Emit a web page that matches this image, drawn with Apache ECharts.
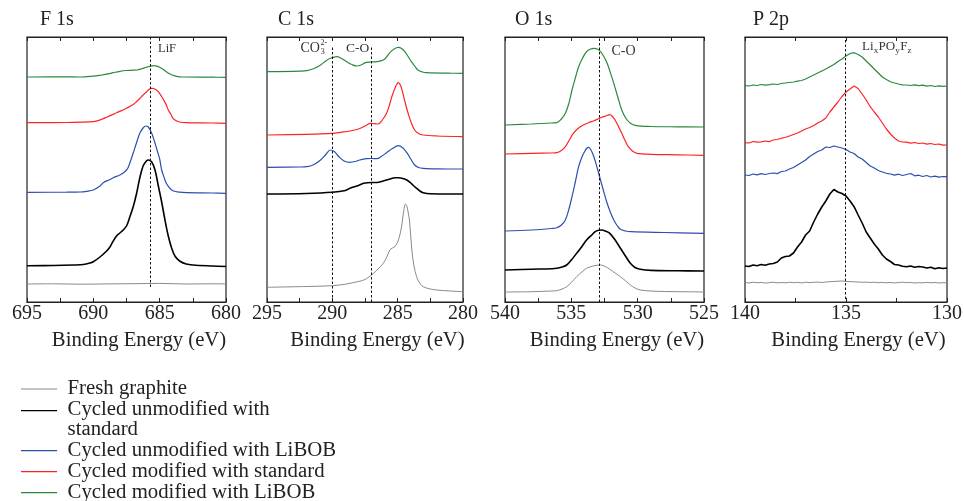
<!DOCTYPE html>
<html><head><meta charset="utf-8">
<script src="https://cdn.jsdelivr.net/npm/echarts@6/dist/echarts.min.js"></script>
<style>html,body{margin:0;padding:0;background:#fff}#c{width:964px;height:501px}</style>
</head><body><div id="c"></div>
<script>
// ---------- data ----------
const seriesNames = ['Fresh graphite', 'Cycled unmodified with standard', 'Cycled unmodified with LiBOB', 'Cycled modified with standard', 'Cycled modified with LiBOB'];
const panelTitles = ['F 1s', 'C 1s', 'O 1s', 'P 2p'];
const axisTitle = 'Binding Energy (eV)';
const xRanges = [[680, 695], [280, 295], [525, 540], [130, 140]];
const refLines = [[685.68], [290, 287], [532.9], [135.05]];

// F 1s  [binding energy, intensity (offset, a.u.)]
const f1sFresh = [[695,18],[693,18.2],[691,17.8],[689,18.1],[687,18.3],[685,18.6],[683,18],[681,18.2],[680,18.1]];
const f1sUnmodStd = [[695,36.3],[693,36.5],[691.5,37],[690.75,37.5],[690.25,39],[690,40.3],[689.5,45],[689,51],[688.75,55],[688.5,61],[688.25,66],[688,69],[687.75,72],[687.5,76],[687.25,85],[687,95],[686.75,108],[686.5,124],[686.25,136],[686,141],[685.85,142],[685.6,140],[685.35,132],[685.1,116],[684.85,100],[684.6,82],[684.35,66],[684.1,54],[683.85,46],[683.5,41],[683,38],[682.5,37],[681,36],[680,35.5]];
const f1sUnmodLiBOB = [[695,109.7],[692,109.8],[691,110],[690.5,110.7],[690,112],[689.5,116],[689.25,119.3],[688.75,122.5],[688.5,124.3],[688,127],[687.75,129],[687.5,132],[687.35,135.3],[687,148.7],[686.75,159],[686.5,168.7],[686.25,174],[686.05,176],[685.85,175],[685.6,168.7],[685.4,161],[685.2,152],[685,143],[684.85,132],[684.65,124],[684.5,118.7],[684.25,114],[684,111.3],[683.5,109.8],[683,109.3],[681,109],[680,108.7]];
const f1sModStd = [[695,179.3],[692,179.5],[691,179.8],[690,180.3],[689.5,182],[689,184.7],[688.5,187.7],[688.25,189.3],[687.75,192],[687.5,193.7],[687,197.5],[686.75,200.3],[686.5,203.5],[686.25,207],[686,210],[685.85,212],[685.6,213.7],[685.45,213.5],[685.25,212],[685.1,210.3],[684.9,206.5],[684.7,202],[684.5,197],[684.35,192],[684.15,187.5],[684,183.7],[683.75,181.3],[683.5,180],[683,179.3],[681,179],[680,178.7]];
const f1sModLiBOB = [[695,225],[692,225.2],[691,225],[690.5,225.3],[690,225.8],[689.5,226.7],[689,227.8],[688.5,229.3],[688,230.7],[687.5,231.5],[687,231.8],[686.7,232],[686.4,233],[686,234.7],[685.7,235.8],[685.45,236.3],[685.2,235.8],[685,234.7],[684.75,232.8],[684.5,230.3],[684.25,228.2],[684,226.7],[683.5,225.2],[683,225],[681,224.8],[680,224.7]];

// C 1s
const c1sFresh = [[295,14.7],[292,15.5],[290,16.3],[289,17.8],[288.65,18.7],[288,20.5],[287.6,22],[287.2,25],[286.85,28.7],[286.5,33],[286.1,38.7],[285.8,46],[285.6,52],[285.4,54],[285.2,55.5],[285,60],[284.8,68.7],[284.65,80],[284.55,90],[284.4,98],[284.3,96],[284.2,90],[284.1,82],[284,66],[283.9,50],[283.75,36],[283.55,25.3],[283.3,18.5],[283.05,15.3],[282.5,13],[282,12],[281,11],[280,10.3]];
const c1sUnmodStd = [[295,108],[292,108.5],[290,109.7],[289,111.5],[288.65,113.7],[288,116.5],[287.6,118.7],[287,119.5],[286.6,119.5],[286.1,121],[285.6,123],[285.2,124.2],[284.95,124.3],[284.6,123.5],[284.3,122],[284,119],[283.8,116.5],[283.55,113.7],[283.3,111],[283.05,109.3],[282.5,108.2],[281,108],[280,108]];
const c1sUnmodLiBOB = [[295,134.7],[292.5,135],[291.95,135.3],[291.4,137.5],[290.9,142],[290.5,147.5],[290.15,152],[289.85,150.5],[289.5,145.3],[289.1,141],[288.65,139.7],[288.25,140.5],[287.9,142],[287.4,143.3],[287,143.5],[286.6,143.3],[286.2,146],[285.85,149.3],[285.4,153.5],[284.95,156.3],[284.6,154],[284.3,149.3],[284,143],[283.7,137],[283.4,134.5],[283.05,133.7],[282,133.2],[280,133]];
const c1sModStd = [[295,167],[292,167.7],[290,168.7],[289.3,169.8],[288.65,171],[288,173],[287.6,175.3],[287.3,177.5],[287.1,178.7],[286.8,178.4],[286.5,178],[286.2,181.5],[285.85,188.7],[285.65,196],[285.45,205.3],[285.2,214],[284.95,219.3],[284.75,215.5],[284.6,208.7],[284.4,198],[284.2,188.7],[283.95,179],[283.7,172],[283.4,168.5],[283.05,167],[282,166],[280,165.3]];
const c1sModLiBOB = [[295,230.3],[292.5,230.8],[291.95,231.3],[291.4,233.5],[290.9,237],[290.5,241],[290.15,243.7],[289.65,245.3],[289.3,243.5],[288.9,240.3],[288.5,237.5],[288.15,236],[287.8,237],[287.4,239.7],[287,240],[286.6,240.3],[286.1,242],[285.85,245],[285.6,249.3],[285.25,253.2],[284.95,254.7],[284.7,253.5],[284.45,250.3],[284.2,245.5],[283.95,240.3],[283.7,236],[283.45,232],[283.1,230],[282.8,229.3],[281,228.8],[280,228.7]];

// O 1s
const o1sFresh = [[540,10],[538,10.3],[536.5,11],[536.1,11.3],[535.7,13],[535.35,15.3],[535,19.5],[534.6,25.3],[534.2,30],[533.85,33.7],[533.3,36.2],[532.8,37],[532.45,35.5],[532.1,32.7],[531.7,29],[531.3,25.3],[530.9,21],[530.55,17],[530.2,14],[529.8,12],[529,11],[528,10.5],[526,10.2],[525,10]];
const o1sUnmodStd = [[540,32],[538,32.8],[536.5,33.3],[536.1,33.7],[535.7,35],[535.35,37],[535,42],[534.6,48.7],[534.2,55.5],[533.85,62],[533.5,66.5],[533.2,70.3],[532.95,71.7],[532.7,72],[532.4,70.8],[532.1,68.7],[531.7,62],[531.3,53.7],[530.9,45.5],[530.55,38.7],[530.2,34.5],[529.8,32.7],[529,31.6],[527,31.2],[525,31]];
const o1sUnmodLiBOB = [[540,71],[538,72],[536.5,73.5],[536.1,74.3],[535.75,77],[535.45,82],[535.2,92],[534.95,105.3],[534.7,120],[534.45,135.3],[534.2,145],[534,150.3],[533.85,153.5],[533.7,154.7],[533.5,151.5],[533.3,145.3],[533.05,134],[532.8,122],[532.55,110],[532.3,98.7],[532.05,89.5],[531.8,82],[531.55,76.5],[531.3,72.7],[530.9,71],[530.5,70.3],[528,69.5],[525,68.7]];
const o1sModStd = [[540,148],[538,148.7],[536.5,149],[536.1,149.3],[535.75,151.5],[535.45,155.3],[535.15,162],[534.85,168.7],[534.5,173.5],[534.1,177],[533.7,179.3],[533.3,181.3],[533,183],[532.7,184.7],[532.4,186],[532.1,187.3],[531.9,185.5],[531.7,182],[531.45,175.5],[531.2,168.7],[530.95,161.5],[530.7,155.3],[530.4,151],[530.05,148.7],[529,147.7],[527,147.2],[525,146.7]];
const o1sModLiBOB = [[540,177],[538,178],[536.5,179],[536.1,179.3],[535.75,183],[535.45,188.7],[535.2,198],[534.95,212],[534.7,224],[534.45,235.3],[534.15,244],[533.85,250.3],[533.55,253],[533.3,253.7],[533.05,253],[532.8,250.3],[532.55,245.5],[532.3,238.7],[532.05,229],[531.8,218.7],[531.5,205],[531.2,192],[530.9,184],[530.55,178.7],[530.1,176.3],[529,175.5],[527,175.2],[525,175]];

// P 2p (noisy spectra, 0.2 eV steps)
const p2pEnergy = [140,139.8,139.6,139.4,139.2,139,138.8,138.6,138.4,138.2,138,137.8,137.6,137.4,137.2,137,136.8,136.6,136.4,136.2,136,135.8,135.6,135.4,135.2,135,134.8,134.6,134.4,134.2,134,133.8,133.6,133.4,133.2,133,132.8,132.6,132.4,132.2,132,131.8,131.6,131.4,131.2,131,130.8,130.6,130.4,130.2,130];
const p2pFresh = [19.5,19,19.8,19.2,19.6,18.9,19.4,19.8,19.1,19.5,19.2,19.7,19.3,19.6,19.1,19.8,19.4,19.7,19.9,19.5,20,20.3,20.5,20.8,21,20.6,20.4,20.2,20,19.7,19.9,19.5,19.8,19.3,19.6,19.2,19.5,19.1,19.4,19.8,19.3,19.5,19,19.4,19.1,19.6,19.2,19.5,19,19.3,19.2];
const p2pUnmodStd = [36,35.5,37,36.2,37.5,36.8,38,38.5,40,44,45.5,46,49,55,60,67,71,80,88,95,101,108,112.5,110,108.5,106,101,95.3,87,79,70,64,58,53,47,43,40.5,37.5,37,35.8,35.3,36,34.8,35.5,35,34,34.8,33.2,34.2,33.5,34];
const p2pUnmodLiBOB = [127,126.5,128,127.2,128.3,127.5,128.5,129,128.4,130.5,131,133,134.5,137,139.5,142,145.5,148,150.5,152,155,154.5,156,155,154,152.5,150,148.5,145,143,139.5,136,134,131.5,130,128.7,128,126.8,127.8,126.5,127.5,128.5,126.2,126.8,125.5,126.5,125,125.8,124.8,125.5,125.3];
const p2pModStd = [159.3,159,160.5,159.8,160.2,161,160.3,162,162.5,163.8,164.5,166,167.5,169,171,173,174.5,176.5,179,181,184,190,195,200,205.5,210,213,216,213.5,208,202,195.3,190,185,179,173,168,164,161,160,159.8,158.8,159.5,158.5,159,157.8,158.5,157.5,158,156.8,157];
const p2pModLiBOB = [216.3,216,217,216.5,217.5,216.8,217.3,218,217.5,218.5,219,219.5,220,220.8,221.5,223,225,227,229,231,233,235.3,237.5,240.5,243,246,248.5,249.3,247.5,245,241,237,233,229,225,222.5,220.3,219,218,217.2,217,216.5,217.2,216.3,216.8,215.8,216.5,215.5,216.2,215.7,216];

// ---------- chart ----------
const FONT = "'Liberation Serif','DejaVu Serif',serif";
const colors = ['#8a8a8a', '#000000', '#2c4fae', '#ff2222', '#2a8a3c'];
const widths = [1, 1.6, 1.2, 1.2, 1.2];
const pair = (xs, ys) => xs.map((x, i) => [x, ys[i]]);
const panelData = [
  [f1sFresh, f1sUnmodStd, f1sUnmodLiBOB, f1sModStd, f1sModLiBOB],
  [c1sFresh, c1sUnmodStd, c1sUnmodLiBOB, c1sModStd, c1sModLiBOB],
  [o1sFresh, o1sUnmodStd, o1sUnmodLiBOB, o1sModStd, o1sModLiBOB],
  [pair(p2pEnergy, p2pFresh), pair(p2pEnergy, p2pUnmodStd), pair(p2pEnergy, p2pUnmodLiBOB), pair(p2pEnergy, p2pModStd), pair(p2pEnergy, p2pModLiBOB)]
];
// layout (pixels)
const grids = [
  {left: 27, top: 37, width: 199, height: 265},
  {left: 267, top: 37, width: 196, height: 265},
  {left: 505, top: 37, width: 199, height: 265},
  {left: 745, top: 37, width: 202, height: 265}
];
const titleLeft = [40, 278, 515, 753];
const refLineSpan = [[[15, 265]], [[0, 256], [0, 256]], [[0, 265]], [[3, 265]]];

const axisCol = '#222';
const xAxes = [];
grids.forEach((g, i) => {
  const base = {
    gridIndex: i, type: 'value', min: xRanges[i][0], max: xRanges[i][1], interval: 5, inverse: true,
    axisLine: {show: true, lineStyle: {color: axisCol, width: 1.2}},
    axisTick: {show: true, inside: true, length: 4, lineStyle: {color: axisCol, width: 1}},
    minorTick: {show: true, splitNumber: 2, length: 4, lineStyle: {color: axisCol, width: 1}},
    splitLine: {show: false}, minorSplitLine: {show: false}
  };
  xAxes.push(Object.assign({}, base, {
    position: 'bottom',
    axisLabel: {show: true, fontFamily: FONT, fontSize: 20, color: axisCol, margin: 2},
    name: axisTitle, nameLocation: 'middle', nameGap: 28,
    nameTextStyle: {fontFamily: FONT, fontSize: 20.7, color: axisCol, padding: [0, 0, 0, 25]}
  }));
});
grids.forEach((g, i) => {
  xAxes.push({
    gridIndex: i, type: 'value', position: 'top', min: xRanges[i][0], max: xRanges[i][1], interval: 5, inverse: true,
    axisLine: {show: true, lineStyle: {color: axisCol, width: 1.2}},
    axisTick: {show: true, inside: true, length: 4, lineStyle: {color: axisCol, width: 1}},
    minorTick: {show: true, splitNumber: 2, length: 4, lineStyle: {color: axisCol, width: 1}},
    axisLabel: {show: false}, splitLine: {show: false}
  });
});
const yAxes = grids.map((g, i) => ({gridIndex: i, type: 'value', min: 0, max: 265, show: false}));

const series = [];
panelData.forEach((curves, p) => {
  curves.forEach((d, k) => {
    const s = {
      type: 'line', name: seriesNames[k], xAxisIndex: p, yAxisIndex: p, data: d,
      showSymbol: false, symbol: 'none', smooth: p === 3 ? false : 0.35,
      color: colors[k], itemStyle: {color: colors[k]},
      lineStyle: {color: colors[k], width: widths[k]}, silent: true, z: 3
    };
    if (k === 0) {
      s.markLine = {
        silent: true, symbol: 'none', label: {show: false},
        lineStyle: {color: '#111', type: [2.5, 2], width: 1},
        data: refLines[p].map((x, j) => [{coord: [x, refLineSpan[p][j][0]]}, {coord: [x, refLineSpan[p][j][1]]}])
      };
    }
    series.push(s);
  });
});

const iconSingle = 'path://M0,0L0.01,0Z M0,9.4L37,9.4L37,10.6L0,10.6Z M0,20L0.01,20Z';
const iconTop = 'path://M0,0L37,0L37,1.3L0,1.3Z M0,20L0.01,20Z';
const legendLabel = {'Cycled unmodified with standard': 'Cycled unmodified with\nstandard'};

const txt = (x, y, text, size) => ({type: 'text', x: x, y: y, silent: true,
  style: {text: text, font: size + 'px ' + FONT, fill: '#333', align: 'left', verticalAlign: 'middle'}});

const option = {
  animation: false,
  backgroundColor: '#fff',
  title: panelTitles.map((t, i) => ({text: t, left: titleLeft[i], top: 10, padding: 0,
    textStyle: {fontFamily: FONT, fontSize: 20, fontWeight: 'normal', color: '#222'}})),
  grid: grids.map(g => Object.assign({show: true, borderColor: axisCol, borderWidth: 1.2, containLabel: false, outerBoundsMode: 'none'}, g)),
  xAxis: xAxes,
  yAxis: yAxes,
  legend: {
    orient: 'vertical', left: 21, top: 378.5, width: 400, height: 200, itemWidth: 37, itemHeight: 19.5, itemGap: 0, padding: 0,
    itemStyle: {borderWidth: 0},
    textStyle: {fontFamily: FONT, fontSize: 20.8, lineHeight: 19.6, color: '#222', padding: [0, 0, 0, 5]},
    formatter: n => legendLabel[n] || n,
    selectedMode: false,
    data: seriesNames.map((n, k) => ({name: n, icon: k === 1 ? iconTop : iconSingle}))
  },
  graphic: [
    txt(158, 49, 'LiF', 12.5),
    txt(300.5, 48.5, 'CO', 14),
    txt(320.5, 42.5, '2-', 8),
    txt(320.8, 52, '3', 8),
    txt(346, 48.5, 'C-O', 13.5),
    txt(611.5, 51.5, 'C-O', 14),
    txt(862, 46.5, 'Li', 13),
    txt(873.8, 50.5, 'x', 9),
    txt(878.6, 46.5, 'PO', 13),
    txt(895.3, 50.5, 'y', 9),
    txt(900.2, 46.5, 'F', 13),
    txt(907.6, 50.5, 'z', 9)
  ],
  series: series
};
const chart = echarts.init(document.getElementById('c'), null, {renderer: 'canvas'});
chart.setOption(option);
</script>
</body></html>
